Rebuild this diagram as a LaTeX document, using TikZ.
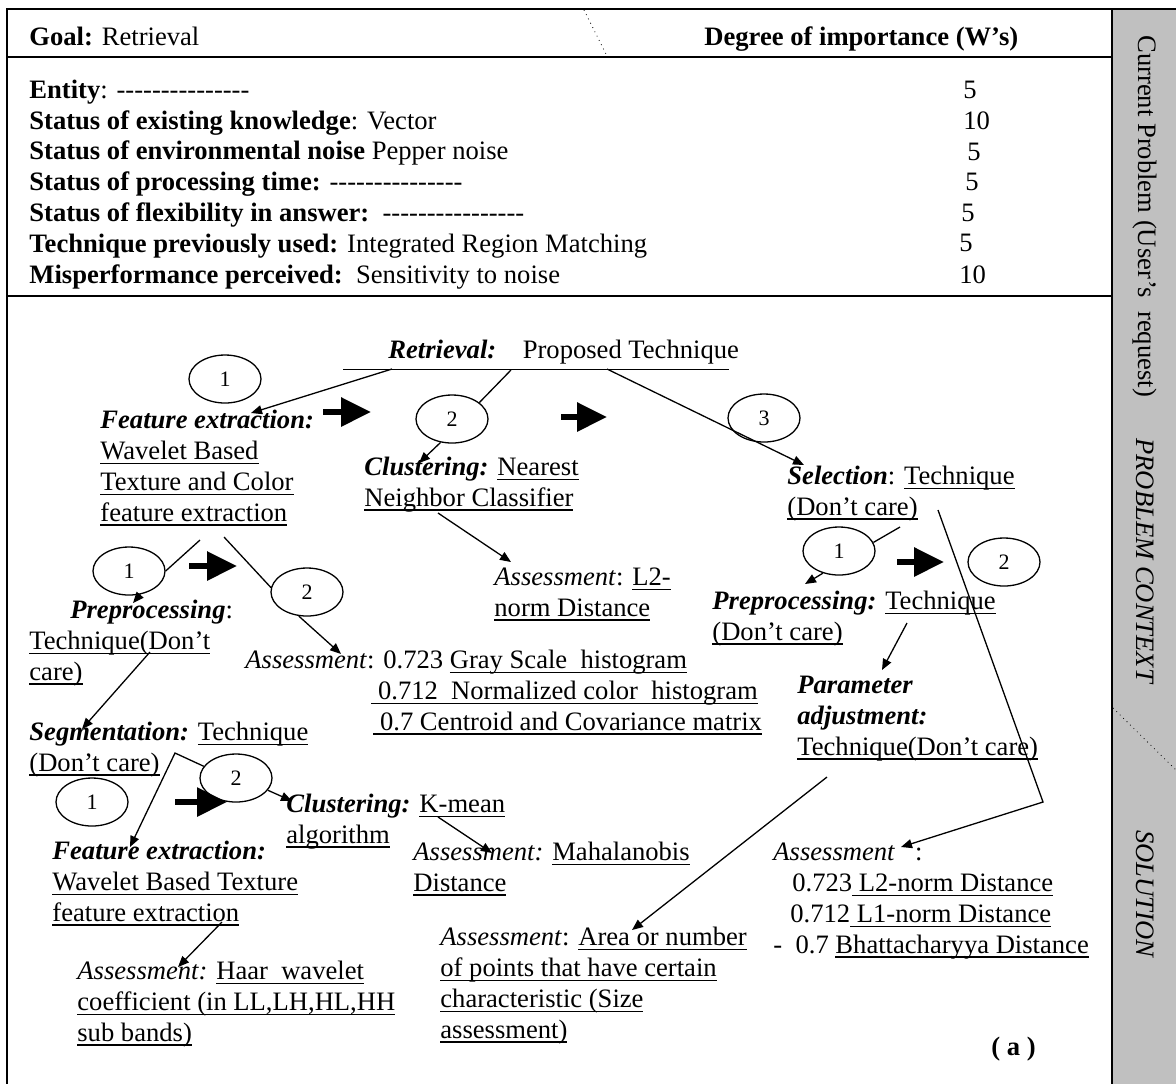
\documentclass[tikz,border=0pt]{standalone}
\usepackage{fontspec}
\setmainfont{Liberation Serif}[Ligatures=TeXOff]
\usepackage{tikz}
\usetikzlibrary{arrows.meta,shapes.geometric}
\definecolor{sidegray}{HTML}{C0C0C0}
\newsavebox{\udlbox}
\newcommand{\udl}[1]{\sbox{\udlbox}{#1}\rlap{\rule[-2.3pt]{\wd\udlbox}{0.6pt}}\usebox{\udlbox}}
\newcommand{\bfit}[1]{\textbf{\textit{#1}}}

\begin{document}
\begin{tikzpicture}[x=0.5pt,y=-0.5pt,
txt/.style={anchor=base west,inner sep=0pt,align=left,font=\fontsize{13.3}{15.4}\selectfont},
num/.style={draw,ellipse,line width=0.65pt,fill=white,minimum width=36pt,minimum height=24pt,inner sep=0pt,font=\fontsize{11}{13}\selectfont},
side/.style={rotate=-90,anchor=west,inner sep=0pt,font=\fontsize{13.3}{15}\selectfont},
arr/.style={-{Triangle[length=5.5pt,width=4.5pt]},line width=0.65pt},
bigarr/.style={-{Triangle[length=15pt,width=14pt]},line width=3pt},
tabline/.style={line width=1pt}
]
\useasboundingbox (0,0) rectangle (1176,1084);
\fill[sidegray] (1112,9) rectangle (1176,1084);
\draw[tabline] (1176,9) -- (7,9) -- (7,1084);
\draw[tabline] (1112,9) -- (1112,1084);
\draw[tabline] (7,57) -- (1112,57);
\draw[tabline] (7,296) -- (1112,296);
\draw[dotted] (584,10) -- (607,56);
\draw[dotted] (1113,708) -- (1176,770);

% problem table (multi-line nodes sit on their last baseline)
\node[txt] (goal) at (29,45) {\textbf{Goal:} Retrieval};
\node[txt] (deg) at (704,45) {\textbf{Degree of importance (W’s)}};
\node[txt] (rows) at (29,283) {\textbf{Entity}: ---------------\\
\textbf{Status of existing knowledge}: Vector\\
\textbf{Status of environmental noise} Pepper noise\\
\textbf{Status of processing time:} ---------------\\
\textbf{Status of flexibility in answer:}~~----------------\\
\textbf{Technique previously used:} Integrated Region Matching\\
\textbf{Misperformance perceived:}~~Sensitivity to noise};
\node[txt] (w1) at (963,98) {5};
\node[txt] (w2) at (963,129) {10};
\node[txt] (w3) at (967,160) {5};
\node[txt] (w4) at (965,190) {5};
\node[txt] (w5) at (961,221) {5};
\node[txt] (w6) at (959,251) {5};
\node[txt] (w7) at (959,283) {10};

\node[side] (cur) at (1145,35) {Current Problem (User’s~~request)};
\node[side,font=\fontsize{13.3}{15}\selectfont\itshape] (ctx) at (1145,438) {PROBLEM CONTEXT};
\node[side,font=\fontsize{13.3}{15}\selectfont\itshape] (sol) at (1145,830) {SOLUTION};

% solution tree
\node[txt] (ret) at (388,358) {\bfit{Retrieval:}\quad Proposed Technique};
\coordinate (retL) at (343,369); \coordinate (retR) at (729,369);
\draw (retL) -- (retR);

\node[txt] (fe) at (100,521) {\bfit{Feature extraction:}\\\udl{Wavelet Based}\\\udl{Texture and Color}\\\udl{feature extraction}};
\node[txt] (clu) at (364,506) {\bfit{Clustering:} \udl{Nearest}\\\udl{Neighbor Classifier}};
\node[txt] (asl) at (494,616) {\textit{Assessment}: \udl{L2-}\\\udl{norm Distance}};
\node[txt] (sel) at (787,515) {\bfit{Selection}: \udl{Technique}\\\udl{(Don’t care)}};
\node[txt] (pre1) at (29,680) {\hspace*{20.5pt}\bfit{Preprocessing}:\\\udl{Technique(Don’t}\\\udl{care)}};
\node[txt] (asg) at (245,730) {\textit{Assessment}: 0.723 \udl{Gray Scale~~histogram}\\
\hspace*{63pt}\udl{~0.712~~Normalized color~~histogram}\\
\hspace*{64pt}\udl{~0.7 Centroid and Covariance matrix}};
\node[txt] (pre2) at (712,640) {\bfit{Preprocessing:} \udl{Technique}\\\udl{(Don’t care)}};
\node[txt] (par) at (797,755) {\bfit{Parameter}\\\bfit{adjustment:}\\\udl{Technique(Don’t care)}};
\node[txt] (seg) at (29,771) {\bfit{Segmentation:} \udl{Technique}\\\udl{(Don’t care)}};
\node[txt] (clk) at (286,843) {\bfit{Clustering:} \udl{K-mean}\\\udl{algorithm}};
\node[txt] (fe2) at (52,921) {\bfit{Feature extraction:}\\\udl{Wavelet Based Texture}\\\udl{feature extraction}};
\node[txt] (amh) at (413,891) {\textit{Assessment:} \udl{Mahalanobis}\\\udl{Distance}};
\node[txt] (asr) at (773,953) {\textit{Assessment}\hspace{10pt}:\\
\hspace*{9.5pt}0.723\udl{~L2-norm Distance}\\
\hspace*{8.5pt}0.712\udl{~L1-norm Distance}\\
-~~0.7 \udl{Bhattacharyya Distance}};
\node[txt] (area) at (440,1038) {\textit{Assessment}: \udl{Area or number}\\\udl{of points that have certain}\\\udl{characteristic (Size}\\\udl{assessment)}};
\node[txt] (haar) at (77,1041) {\textit{Assessment:} \udl{Haar~~wavelet}\\\udl{coefficient (in LL,LH,HL,HH}\\\udl{sub bands)}};
\node[txt] (lab) at (991,1055) {\textbf{( a )}};

\node[num] (e1t) at (225,379) {1};
\node[num] (e2t) at (452,419) {2};
\node[num] (e3t) at (764,418) {3};
\node[num] (e1f) at (129,571) {1};
\node[num] (e2f) at (307,592) {2};
\node[num] (e1s) at (839,551) {1};
\node[num] (e2s) at (1004,562) {2};
\node[num] (e1g) at (92,802) {1};
\node[num] (e2g) at (236,778) {2};

\draw[bigarr] (323,412) -- (371,412);
\draw[bigarr] (561,417) -- (607,417);
\draw[bigarr] (189,566) -- (237,566);
\draw[bigarr] (897,562) -- (944,562);
\draw[bigarr] (175,802) -- (227,802);

\coordinate (t1) at (392,369); \coordinate (feTip) at (251,413);
\coordinate (t2) at (511,370); \coordinate (cluTip) at (419,463);
\coordinate (t3) at (607,369); \coordinate (selTip) at (804,465);
\coordinate (f1) at (200,540); \coordinate (preTip) at (133,603);
\coordinate (f2) at (224,537); \coordinate (asgTip) at (341,654);
\coordinate (n1) at (438,513); \coordinate (aslTip) at (511,562);
\coordinate (s1) at (900,527); \coordinate (pr2Tip) at (805,584);
\coordinate (s2) at (938,510); \coordinate (sBend) at (1043,802); \coordinate (asrTip) at (901,847);
\coordinate (p1) at (907,623); \coordinate (parTip) at (882,670);
\coordinate (p2) at (827,777); \coordinate (areaTip) at (632,930);
\coordinate (q1) at (150,652); \coordinate (segTip) at (82,729);
\coordinate (gBend) at (175,753); \coordinate (fe2Tip) at (130,847); \coordinate (clkTip) at (292,801);
\coordinate (k1) at (438,817); \coordinate (mahTip) at (492,853);
\coordinate (h1) at (222,922); \coordinate (haarTip) at (178,967);

\draw[arr] (t1) -- (feTip);
\draw[line width=0.65pt] (t2) -- (e2t.31); \draw[arr] (e2t.244) -- (cluTip);
\draw[arr] (t3) -- (selTip);
\draw[line width=0.65pt] (f1) -- (e1f.0); \draw[arr] (e1f.-64) -- (preTip);
\draw[line width=0.65pt] (f2) -- (e2f.173); \draw[arr] (e2f.251) -- (asgTip);
\draw[arr] (n1) -- (aslTip);
\draw[line width=0.65pt] (s1) -- (e1s.14); \draw[arr] (e1s.234) -- (pr2Tip);
\draw[arr] (s2) -- (sBend) -- (asrTip);
\draw[arr] (p1) -- (parTip);
\draw[arr] (p2) -- (areaTip);
\draw[arr] (q1) -- (segTip);
\draw[arr] (e2g.160) -- (gBend) -- (fe2Tip);
\draw[arr] (e2g.-21) -- (clkTip);
\draw[arr] (k1) -- (mahTip);
\draw[arr] (h1) -- (haarTip);
\end{tikzpicture}
\end{document}
